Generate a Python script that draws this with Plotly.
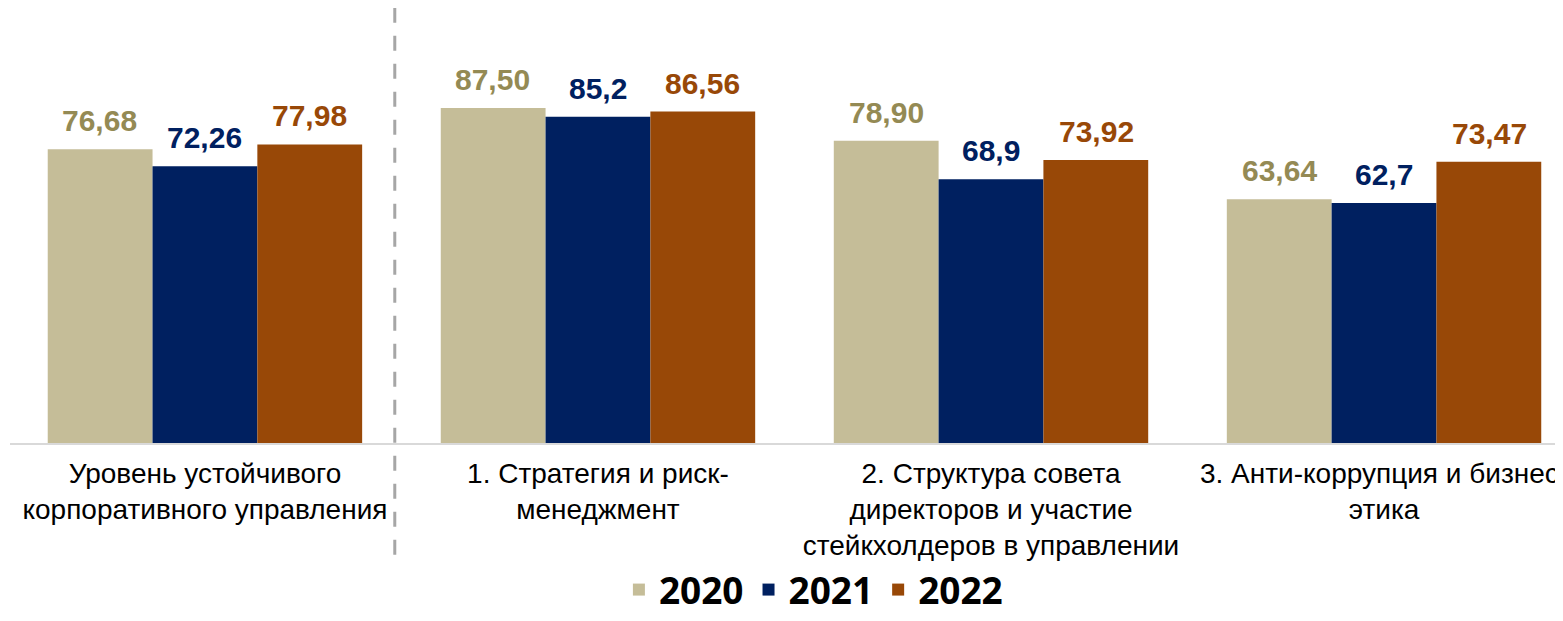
import plotly.graph_objects as go

categories = [
    "Уровень устойчивого<br>корпоративного управления",
    "1. Стратегия и риск-<br>менеджмент",
    "2. Структура совета<br>директоров и участие<br>стейкхолдеров в управлении",
    "3. Анти-коррупция и бизнес-<br>этика",
]
years = ["2020", "2021", "2022"]
values_2020 = [76.68, 87.50, 78.90, 63.64]
values_2021 = [72.26, 85.2, 68.9, 62.7]
values_2022 = [77.98, 86.56, 73.92, 73.47]
labels_2020 = ["76,68", "87,50", "78,90", "63,64"]
labels_2021 = ["72,26", "85,2", "68,9", "62,7"]
labels_2022 = ["77,98", "86,56", "73,92", "73,47"]

series = [values_2020, values_2021, values_2022]
series_labels = [labels_2020, labels_2021, labels_2022]
bar_colors = ["#c5bd98", "#002060", "#984807"]
label_colors = ["#948a54", "#002060", "#984807"]

fig = go.Figure()
for name, vals, col in zip(years, series, bar_colors):
    fig.add_trace(go.Bar(
        x=categories, y=vals, name=name,
        marker=dict(color=col, line=dict(width=0)),
        hoverinfo="skip",
    ))

bar_px = 105
annotations = []
for i, (vals, labs, lc) in enumerate(zip(series, series_labels, label_colors)):
    for c, v, t in zip(categories, vals, labs):
        annotations.append(dict(
            x=c, y=v, xref="x", yref="y", text=t, showarrow=False,
            yanchor="bottom", xanchor="center", xshift=(i - 1) * bar_px, yshift=10,
            font=dict(family="Liberation Sans, Arial", size=30, color=lc, weight="bold"),
        ))

fig.update_layout(
    width=1547, height=605,
    margin=dict(l=2, r=0, t=0, b=170, autoexpand=False),
    plot_bgcolor="white", paper_bgcolor="white",
    barmode="group", bargap=0.2, bargroupgap=0,
    annotations=annotations,
    showlegend=True,
    legend=dict(
        orientation="h", x=0.52, xanchor="center", y=-0.338, yanchor="middle",
        font=dict(family="Open Sans, Liberation Sans", size=37, color="black", weight="bold"),
        itemwidth=30, bgcolor="rgba(0,0,0,0)",
    ),
    xaxis=dict(
        range=[-0.496, 3.435], showgrid=False, showline=True, linecolor="#d9d9d9", linewidth=2,
        ticks="", ticklabelstandoff=4,
        tickfont=dict(family="Liberation Sans, Arial", size=28, color="black"),
    ),
    yaxis=dict(range=[0, 113.6], visible=False, showgrid=False, zeroline=False),
    shapes=[dict(
        type="line", xref="x", yref="paper", x0=0.483, x1=0.483, y0=-0.257, y1=1.0,
        line=dict(color="#a6a6a6", width=3, dash="15px,13px"),
    )],
)

fig.write_html("out.html")
